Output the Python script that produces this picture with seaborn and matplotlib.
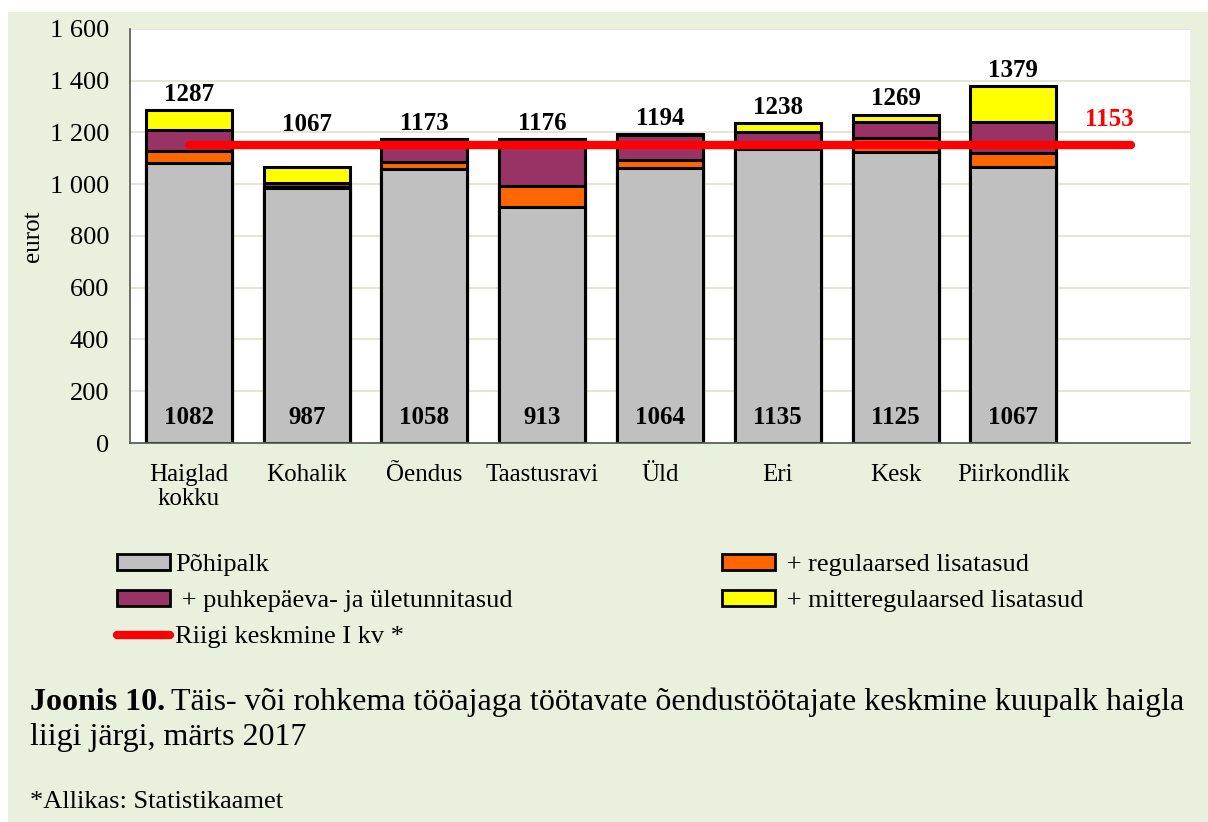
import numpy as np
import pandas as pd
import matplotlib
matplotlib.use("Agg")
import matplotlib.pyplot as plt
import seaborn as sns
from matplotlib.patches import Patch, Rectangle
from matplotlib.lines import Line2D

# data
categories = ["Haiglad\nkokku", "Kohalik", "Õendus", "Taastusravi", "Üld", "Eri", "Kesk", "Piirkondlik"]
pohipalk = [1082, 987, 1058, 913, 1064, 1135, 1125, 1067]
regulaarsed = [46, 3, 29, 81, 30, 2, 55, 53]
puhkepaeva = [82, 14, 86, 180, 95, 65, 62, 119]
mitteregulaarsed = [77, 63, 0, 2, 5, 36, 27, 140]
totals = [1287, 1067, 1173, 1176, 1194, 1238, 1269, 1379]
riigi_keskmine = 1153

layers = ["Põhipalk", "+ regulaarsed lisatasud", "+ puhkepäeva- ja ületunnitasud", "+ mitteregulaarsed lisatasud"]
colors = ["#C0C0C0", "#FF6600", "#993366", "#FFFF00"]

df = pd.DataFrame({"kat": categories, "p": pohipalk, "r": regulaarsed, "u": puhkepaeva, "m": mitteregulaarsed})
df["c1"] = df["p"]
df["c2"] = df["c1"] + df["r"]
df["c3"] = df["c2"] + df["u"]
df["c4"] = df["c3"] + df["m"]

sns.set_style("white")
plt.rcParams["font.family"] = ["Liberation Serif", "DejaVu Serif"]
plt.rcParams["text.color"] = "black"
plt.rcParams["axes.labelcolor"] = "black"

fig = plt.figure(figsize=(12.08, 8.22), dpi=100)
fig.patch.set_facecolor("white")
fig.patches.append(Rectangle((8 / 1208, 0), 1200 / 1208, 810 / 822, transform=fig.transFigure,
                             facecolor="#EAF0DE", edgecolor="none", zorder=-10))
ax = fig.add_axes([130 / 1208, 1 - 443 / 822, 1060 / 1208, 414 / 822])
ax.set_facecolor("white")

# stacked bars: draw cumulative heights from the top layer down
for col, c in zip(["c4", "c3", "c2", "c1"], colors[::-1]):
    sns.barplot(data=df, x="kat", y=col, color=c, saturation=1, width=0.73,
                edgecolor="black", linewidth=2.2, ax=ax, zorder=2)

# country average line
line_df = pd.DataFrame({"x": [0, len(categories)], "y": [riigi_keskmine, riigi_keskmine]})
sns.lineplot(data=line_df, x="x", y="y", color="#FF0000", linewidth=6, ax=ax, zorder=4,
             solid_capstyle="round")
ax.annotate(str(riigi_keskmine), (len(categories), riigi_keskmine), xytext=(2, 10),
            textcoords="offset points", ha="right", va="bottom", color="#FF0000",
            fontsize=18, fontweight="bold")

for i in range(len(categories)):
    # labels of bars lower than the red line are lifted above it
    y_lab = max(totals[i], riigi_keskmine + 18)
    ax.annotate(str(totals[i]), (i, y_lab), xytext=(0, 3), textcoords="offset points",
                ha="center", va="bottom", fontsize=18, fontweight="bold")
    ax.text(i, 100, str(pohipalk[i]), ha="center", va="center", fontsize=18, fontweight="bold", zorder=5)

ax.set_xlim(-0.5, len(categories) + 0.5)
ax.set_ylim(0, 1600)
ax.set_yticks(range(0, 1601, 200))
ax.set_yticklabels([f"{v:,}".replace(",", " ") for v in range(0, 1601, 200)], fontsize=19)
ax.set_xticks(range(len(categories) + 1))
ax.set_xticklabels(categories + [""], fontsize=18, linespacing=1.1)
ax.set_xticks(np.arange(-0.5, len(categories) + 1), minor=True)
ax.tick_params(axis="x", which="major", length=0, pad=15, labelcolor="black")
ax.tick_params(axis="x", which="minor", length=7, direction="out", color="#555555", width=1.2)
ax.tick_params(axis="y", length=7, direction="out", color="#555555", width=1.2, pad=8, labelcolor="black")
ax.yaxis.grid(True, color="#E2DFCB", linewidth=1.2)
ax.set_axisbelow(True)
ax.set_xlabel("")
ax.set_ylabel("eurot", fontsize=18, labelpad=4)
for s in ["top", "right"]:
    ax.spines[s].set_visible(False)
for s in ["left", "bottom"]:
    ax.spines[s].set_color("#555555")
    ax.spines[s].set_linewidth(1.2)

# legend in two blocks
h = [Patch(facecolor=c, edgecolor="black", linewidth=2) for c in colors]
red = Line2D([0], [0], color="#FF0000", linewidth=6, solid_capstyle="round")
kw = dict(frameon=False, fontsize=19, handlelength=2.0, handleheight=0.55, handletextpad=0.2,
          labelspacing=0.52, borderaxespad=0, borderpad=0)
fig.legend([h[0], h[2], red], [layers[0], " " + layers[2], "Riigi keskmine I kv *"], loc="upper left",
           bbox_to_anchor=(117 / 1208, 1 - 554 / 822), **kw)
fig.legend([h[1], h[3]], [" " + layers[1], " " + layers[3]], loc="upper left",
           bbox_to_anchor=(722 / 1208, 1 - 554 / 822), **kw)

# caption: bold "Joonis 10." followed by normal text
renderer = fig.canvas.get_renderer()
t_bold = fig.text(30 / 1208, 1 - 710 / 822, "Joonis 10.", fontsize=23, fontweight="bold", va="baseline")
x_after = t_bold.get_window_extent(renderer).x1 + 6
fig.text(x_after / 1208, 1 - 710 / 822,
         "Täis- või rohkema tööajaga töötavate õendustöötajate keskmine kuupalk haigla",
         fontsize=23, va="baseline")
fig.text(30 / 1208, 1 - 745 / 822, "liigi järgi, märts 2017", fontsize=23, va="baseline")
fig.text(30 / 1208, 1 - 808 / 822, "*Allikas: Statistikaamet", fontsize=19, va="baseline")

fig.savefig("out.png", dpi=100)
